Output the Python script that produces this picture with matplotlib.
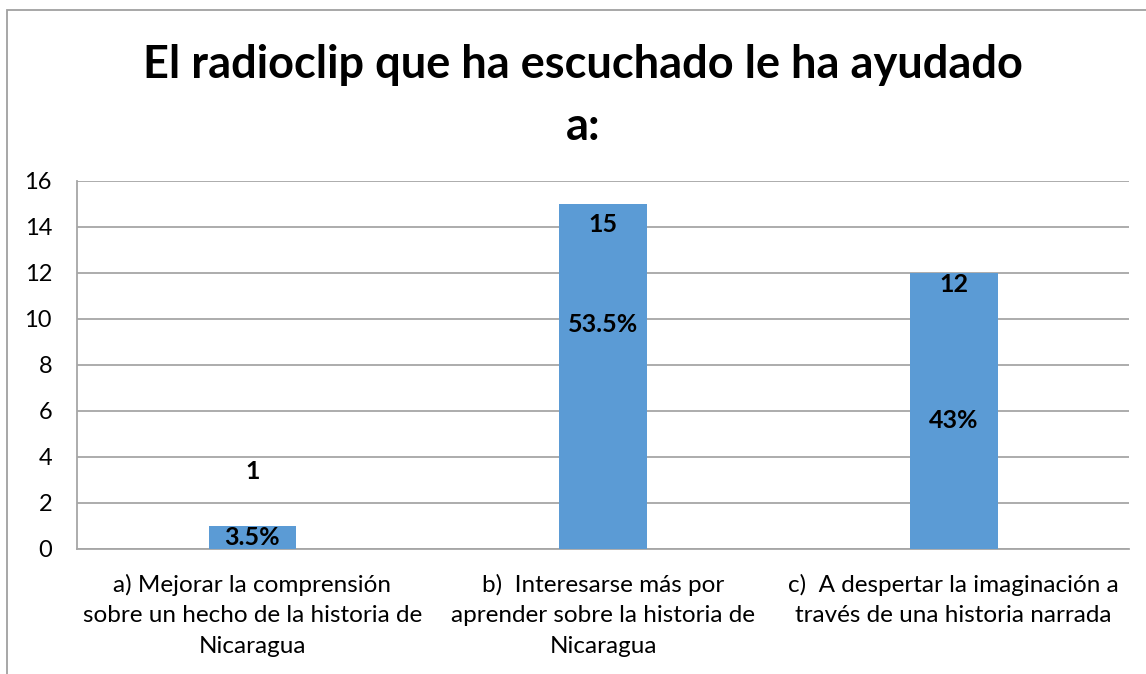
import matplotlib.pyplot as plt
from matplotlib.patches import Rectangle

plt.rcParams['font.family'] = ['Lato', 'DejaVu Sans']

categories = ['a) Mejorar la comprensión\nsobre un hecho de la historia de\nNicaragua',
              'b)  Interesarse más por\naprender sobre la historia de\nNicaragua',
              'c)  A despertar la imaginación a\ntravés de una historia narrada']
counts = [1, 15, 12]
percents = ['3.5%', '53.5%', '43%']

# where the labels sit (data units)
count_label_y = [3.35, 14.1, 11.5]
pct_label_y = [0.5, 9.75, 5.6]

bar_color = '#5B9BD5'
grid_color = '#A6A6A6'

fig = plt.figure(figsize=(11.46, 6.74), dpi=100)
ax = fig.add_axes([0.0672, 0.1855, 0.9180, 0.5460])

x = range(len(categories))
ax.bar(x, counts, width=0.25, color=bar_color, zorder=3)

for i in x:
    ax.text(i, count_label_y[i], str(counts[i]), ha='center', va='center',
            fontsize=18, fontweight='bold', zorder=4)
    ax.text(i, pct_label_y[i], percents[i], ha='center', va='center',
            fontsize=18, fontweight='bold', zorder=4)

ax.set_xlim(-0.5, 2.5)
ax.set_ylim(0, 16)
ax.set_yticks(range(0, 17, 2))
ax.set_xticks(list(x))
ax.set_xticklabels(categories, fontsize=17.5, linespacing=1.55)
ax.tick_params(axis='y', labelsize=17, length=0, pad=18)
ax.tick_params(axis='x', length=0, pad=18)
ax.grid(axis='y', color=grid_color, linewidth=1.3, zorder=0)

for side in ['top', 'right']:
    ax.spines[side].set_visible(False)
ax.spines['left'].set_color(grid_color)
ax.spines['bottom'].set_color(grid_color)
ax.spines['left'].set_linewidth(1.3)
ax.spines['bottom'].set_linewidth(1.3)

fig.text(0.509, 0.858, 'El radioclip que ha escuchado le ha ayudado\na:',
         ha='center', va='center', fontsize=32.5, fontweight='bold', linespacing=1.6)

# outer chart frame
fig.patches.append(Rectangle((7 / 1146, -0.1), 1.2, 1 - 10 / 674 + 0.1,
                             transform=fig.transFigure, fill=False,
                             edgecolor='#A0A0A0', linewidth=1.3))

fig.savefig('out.png', dpi=100)
